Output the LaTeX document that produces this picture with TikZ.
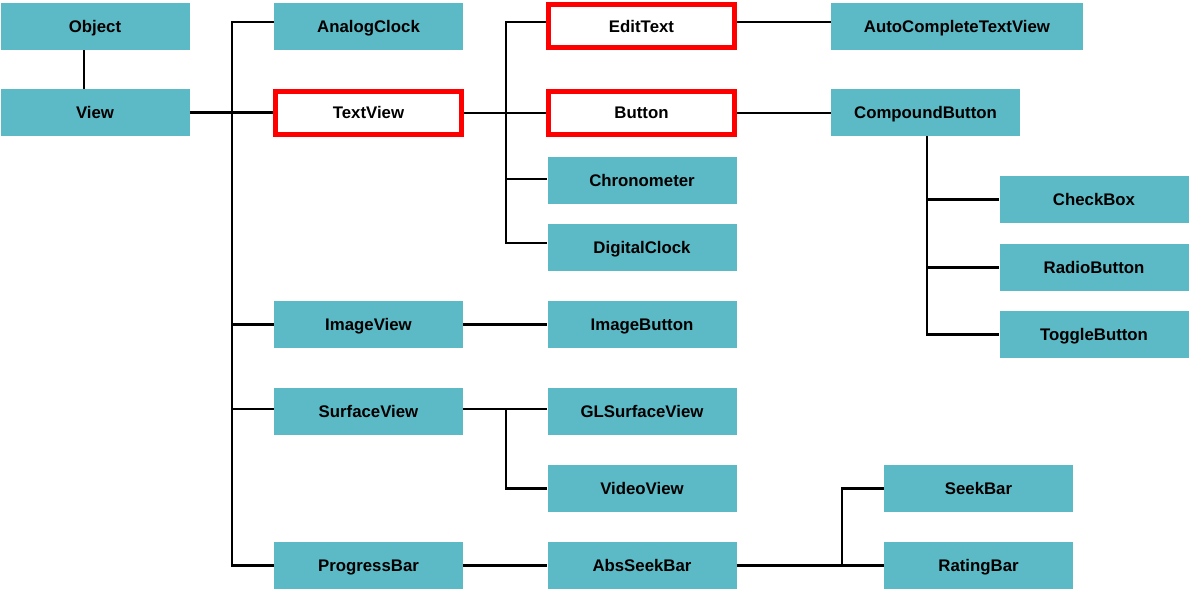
\documentclass[tikz,border=0pt]{standalone}
\usepackage{fontspec}
\setmainfont{Liberation Sans}
\definecolor{boxcol}{HTML}{5BBAC6}
\begin{document}
\begin{tikzpicture}[x=0.75pt,y=-0.75pt,
  box/.style={fill=boxcol, draw=none, minimum width=141.75pt, minimum height=35.25pt, inner sep=0pt,
    text height=9pt, text depth=0pt, font=\bfseries\fontsize{12.6}{14}\selectfont},
  redbox/.style={box, fill=white, draw=red, line width=3.75pt, minimum width=139.5pt, minimum height=32.25pt},
  conn/.style={line width=1.6pt}]
\useasboundingbox (0,0) rectangle (1189,591);
% nodes
\node[box] (Object) at (95,26.5) {Object};
\node[box] (View) at (95,112.5) {View};
\node[box] (AnalogClock) at (368.5,26.5) {AnalogClock};
\node[redbox] (TextView) at (368.5,113) {TextView};
\node[box] (ImageView) at (368.5,324.5) {ImageView};
\node[box] (SurfaceView) at (368.5,411.5) {SurfaceView};
\node[box] (ProgressBar) at (368.5,565.5) {ProgressBar};
\node[redbox] (EditText) at (641.5,26.5) {EditText};
\node[redbox] (Button) at (641.5,113) {Button};
\node[box] (Chronometer) at (642,180.5) {Chronometer};
\node[box] (DigitalClock) at (642,247.5) {DigitalClock};
\node[box] (ImageButton) at (642,324.5) {ImageButton};
\node[box] (GLSurfaceView) at (642,411.5) {GLSurfaceView};
\node[box] (VideoView) at (642,488.5) {VideoView};
\node[box] (AbsSeekBar) at (642,565.5) {AbsSeekBar};
\node[box, minimum width=189pt] (AutoComplete) at (957,26.5) {AutoCompleteTextView};
\node[box] (CompoundButton) at (925.5,112.5) {CompoundButton};
\node[box] (CheckBox) at (1094,199.5) {CheckBox};
\node[box] (RadioButton) at (1094,267.5) {RadioButton};
\node[box] (ToggleButton) at (1094,334.5) {ToggleButton};
\node[box] (SeekBar) at (978.5,488.5) {SeekBar};
\node[box] (RatingBar) at (978.5,565.5) {RatingBar};
% trunk coordinates
\coordinate (tA) at (232,0);
\coordinate (tB) at (506,0);
\coordinate (tC) at (927,0);
\coordinate (tD) at (842,0);
% connectors
\draw[conn] ([xshift=-8.25pt]Object.south) -- ([xshift=-8.25pt]View.north);
\draw[conn] (View.east) -- (View.east -| TextView.west);
\draw[conn] ([yshift=3.4pt]AnalogClock.west) -| (tA |- ProgressBar.west) -- (ProgressBar.west);
\draw[conn] (tA |- ImageView.west) -- (ImageView.west);
\draw[conn] ([yshift=2pt]SurfaceView.west -| tA) -- ([yshift=2pt]SurfaceView.west);
\draw[conn] (TextView.east) -- (Button.west);
\draw[conn] ([yshift=3.4pt]EditText.west) -| ([yshift=3.4pt]tB |- DigitalClock.west) -- ([yshift=3.4pt]DigitalClock.west);
\draw[conn] ([yshift=1.1pt]tB |- Chronometer.west) -- ([yshift=1.1pt]Chronometer.west);
\draw[conn] ([yshift=3.4pt]EditText.east) -- ([yshift=3.4pt]EditText.east -| AutoComplete.west);
\draw[conn] (Button.east) -- (Button.east -| CompoundButton.west);
\draw[conn] (CompoundButton.south -| tC) |- (ToggleButton.west);
\draw[conn] (tC |- CheckBox.west) -- (CheckBox.west);
\draw[conn] (tC |- RadioButton.west) -- (RadioButton.west);
\draw[conn] (ImageView.east) -- (ImageView.east -| ImageButton.west);
\draw[conn] ([yshift=2pt]SurfaceView.east) -- ([yshift=2pt]SurfaceView.east -| GLSurfaceView.west);
\draw[conn] ([yshift=2pt]SurfaceView.east -| tB) |- (VideoView.west);
\draw[conn] (ProgressBar.east) -- (AbsSeekBar.west);
\draw[conn] (AbsSeekBar.east) -- (RatingBar.west);
\draw[conn] (tD |- RatingBar.west) |- (SeekBar.west);
\end{tikzpicture}
\end{document}
